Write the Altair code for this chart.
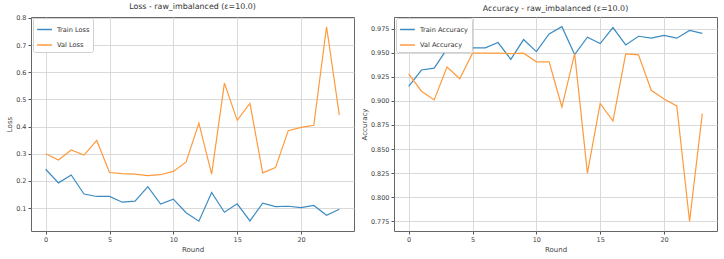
import altair as alt
import pandas as pd

rounds = list(range(24))
train_loss = [0.243, 0.193, 0.222, 0.152, 0.143, 0.143, 0.122, 0.126, 0.179, 0.115, 0.133, 0.083,
              0.052, 0.158, 0.085, 0.116, 0.053, 0.118, 0.106, 0.107, 0.102, 0.110, 0.074, 0.096]
val_loss = [0.300, 0.277, 0.314, 0.295, 0.349, 0.231, 0.227, 0.225, 0.220, 0.223, 0.235, 0.270,
            0.413, 0.225, 0.560, 0.423, 0.485, 0.230, 0.249, 0.385, 0.397, 0.405, 0.767, 0.442]
train_acc = [0.915, 0.932, 0.934, 0.954, 0.959, 0.955, 0.955, 0.9605, 0.943, 0.9636, 0.951, 0.9695,
             0.977, 0.948, 0.966, 0.9595, 0.976, 0.958, 0.967, 0.965, 0.968, 0.965, 0.973, 0.970]
val_acc = [0.928, 0.910, 0.901, 0.935, 0.923, 0.9495, 0.9495, 0.9495, 0.949, 0.9495, 0.9405, 0.9405,
           0.8936, 0.949, 0.825, 0.8974, 0.879, 0.9488, 0.9478, 0.911, 0.902, 0.8947, 0.775, 0.8867]

loss_ticks = [0.1, 0.2, 0.3, 0.4, 0.5, 0.6, 0.7, 0.8]
acc_ticks = [0.775, 0.8, 0.825, 0.85, 0.875, 0.9, 0.925, 0.95, 0.975]
x_ticks = [0, 5, 10, 15, 20]

loss_df = pd.DataFrame({
    "Round": rounds * 2,
    "value": train_loss + val_loss,
    "series": ["Train Loss"] * 24 + ["Val Loss"] * 24,
})
acc_df = pd.DataFrame({
    "Round": rounds * 2,
    "value": train_acc + val_acc,
    "series": ["Train Accuracy"] * 24 + ["Val Accuracy"] * 24,
})

FONT = "DejaVu Sans"
W, H = 323, 214


def panel(df, title, ytitle, ydomain, yticks, fmt, names):
    return alt.Chart(df).mark_line(strokeWidth=1.2).encode(
        x=alt.X("Round:Q", scale=alt.Scale(domain=[-1.15, 24.15], nice=False, zero=False),
                axis=alt.Axis(values=x_ticks, title="Round", format="d")),
        y=alt.Y("value:Q", scale=alt.Scale(domain=ydomain, nice=False, zero=False),
                axis=alt.Axis(values=yticks, title=ytitle, format=fmt)),
        color=alt.Color("series:N",
                        scale=alt.Scale(domain=names, range=["#3b8bc2", "#ff9a3c"]),
                        legend=alt.Legend(title=None, orient="none", legendX=2, legendY=1,
                                          symbolType="stroke", symbolSize=220, symbolStrokeWidth=1.5,
                                          labelFontSize=6.6, labelFont=FONT, labelColor="#333",
                                          labelOffset=4,
                                          fillColor="white", strokeColor="#d0d0d0", padding=3,
                                          rowPadding=2.5, cornerRadius=2)),
    ).properties(
        width=W, height=H,
        title=alt.TitleParams(title, fontSize=7.9, font=FONT, fontWeight="normal", color="#333", offset=4),
    )


left = panel(loss_df, "Loss - raw_imbalanced (ε=10.0)", "Loss", [0.016, 0.803], loss_ticks, ".1f",
             ["Train Loss", "Val Loss"])
right = panel(acc_df, "Accuracy - raw_imbalanced (ε=10.0)", "Accuracy", [0.765, 0.987], acc_ticks, ".3f",
              ["Train Accuracy", "Val Accuracy"])

chart = alt.hconcat(left, right, spacing=40, bounds="flush").resolve_scale(color="independent").properties(
    padding={"left": 5, "top": 2, "right": 5, "bottom": 5},
).configure_axis(
    labelFont=FONT, titleFont=FONT, labelFontSize=6.5, titleFontSize=7, labelColor="#444",
    titleColor="#444", titleFontWeight="normal", grid=True, gridColor="#d6d6d6", gridWidth=0.9,
    domain=False, tickColor="#555", tickSize=3, labelPadding=2,
).configure_axisX(titlePadding=3).configure_axisY(titlePadding=3).configure_view(
    stroke="#666", strokeWidth=1
)

chart.save("out.html", embed_options={"renderer": "svg", "actions": False})
